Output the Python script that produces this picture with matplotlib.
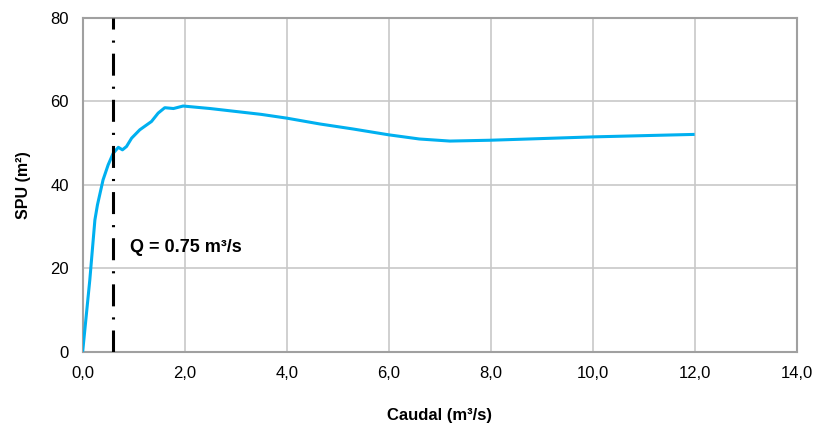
import matplotlib
matplotlib.use("Agg")
import matplotlib.pyplot as plt

plt.rcParams['font.family'] = ['Liberation Sans', 'DejaVu Sans']

caudal = [0.0, 0.14, 0.24, 0.29, 0.40, 0.50, 0.60, 0.70, 0.78, 0.86, 0.96, 1.12,
          1.35, 1.48, 1.61, 1.78, 1.97, 2.5, 3.0, 3.5, 4.0, 4.65, 5.3, 6.0, 6.6,
          7.2, 7.99, 9.0, 10.0, 11.0, 12.0]
spu = [0.0, 17.2, 31.6, 35.2, 41.2, 44.8, 47.6, 49.0, 48.4, 49.2, 51.2, 53.2,
       55.2, 57.2, 58.5, 58.3, 58.9, 58.3, 57.6, 56.9, 56.0, 54.6, 53.4, 52.0,
       51.0, 50.5, 50.7, 51.1, 51.5, 51.8, 52.1]
q_line = 0.6
q_label = "Q = 0.75 m³/s"
xticks = [0, 2, 4, 6, 8, 10, 12, 14]
yticks = [0, 20, 40, 60, 80]

fig = plt.figure(figsize=(8.16, 4.24), dpi=100)
ax = fig.add_axes([0.1013, 0.1705, 0.875, 0.787])

ax.plot(caudal, spu, color='#00B0F0', lw=2.2, solid_joinstyle='round',
        solid_capstyle='butt', zorder=3)
ax.axvline(q_line, color='black', lw=2.2, linestyle=(0, (7.2, 3.6, 0.7, 3.6)), zorder=4)
ax.text(0.93, 25, q_label, fontsize=13, fontweight='bold', va='center', ha='left')

ax.set_xlim(0, 14)
ax.set_ylim(0, 80)
ax.set_xticks(xticks)
ax.set_xticklabels([f"{v:.1f}".replace('.', ',') for v in xticks])
ax.set_yticks(yticks)
ax.set_yticklabels([str(v) for v in yticks])
ax.tick_params(axis='both', labelsize=12, length=0, pad=10)
ax.grid(True, color='#C8C8C8', lw=1.2)
ax.set_axisbelow(True)
for s in ax.spines.values():
    s.set_color('#A0A0A0')
    s.set_linewidth(1.5)

ax.set_xlabel("Caudal (m³/s)", fontsize=12, fontweight='bold', labelpad=20)
ax.set_ylabel("SPU (m²)", fontsize=11.5, fontweight='bold', labelpad=14)

fig.savefig("out.png", dpi=100)
